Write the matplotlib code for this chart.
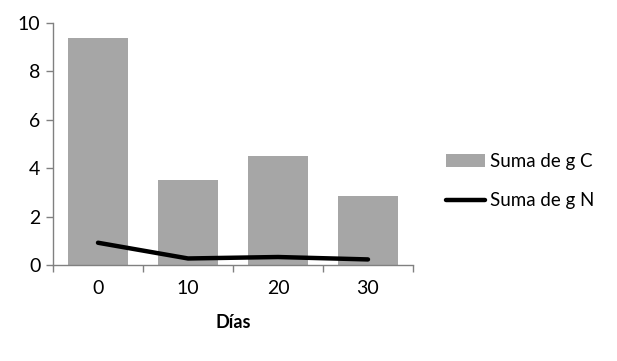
import numpy as np
import matplotlib
matplotlib.use("Agg")
import matplotlib.pyplot as plt

plt.rcParams['font.family'] = ['Lato', 'DejaVu Sans']

dias = ['0', '10', '20', '30']
suma_c = [9.39, 3.51, 4.5, 2.85]
suma_n = [0.92, 0.27, 0.33, 0.23]

fig = plt.figure(figsize=(6.17, 3.61), dpi=100)
ax = fig.add_axes([53 / 617, 1 - 265 / 361, 360 / 617, 242 / 361])

x = np.arange(len(dias))
barras = ax.bar(x, suma_c, width=0.667, color='#a6a6a6', label='Suma de g C', zorder=2)
linea, = ax.plot(x, suma_n, color='black', lw=3.2, solid_capstyle='round', label='Suma de g N', zorder=3)

ax.set_xlim(-0.5, len(dias) - 0.5)
ax.set_ylim(0, 10)
ax.set_yticks([0, 2, 4, 6, 8, 10])
ax.set_xticks(x)
ax.set_xticklabels(dias)
ax.set_xticks(np.arange(-0.5, len(dias)), minor=True)
ax.tick_params(axis='x', which='major', length=0, pad=11, labelsize=14)
ax.tick_params(axis='x', which='minor', length=5, width=1, color='#808080')
ax.tick_params(axis='y', length=5, width=1, color='#808080', labelsize=14, pad=4)
for s in ['top', 'right']:
    ax.spines[s].set_visible(False)
for s in ['left', 'bottom']:
    ax.spines[s].set_color('#808080')
    ax.spines[s].set_linewidth(1)

ax.set_xlabel('Días', fontweight='bold', fontsize=13, labelpad=12)

ax.legend([barras, linea], ['Suma de g C', 'Suma de g N'],
          loc='center left', bbox_to_anchor=(446 / 617, 180 / 361), bbox_transform=fig.transFigure,
          frameon=False, fontsize=13.5, handlelength=2.1, handletextpad=0.25, labelspacing=1.2,
          borderaxespad=0, borderpad=0)

fig.savefig('out.png', dpi=100)
